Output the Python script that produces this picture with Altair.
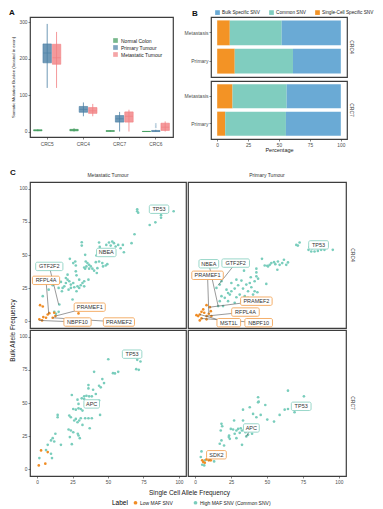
import altair as alt
import pandas as pd

FONT = "Liberation Sans"
DARK = "#333333"

# ---------------- Panel A: mutation burden boxplots ----------------
A_SAMPLES = ["CRC5", "CRC4", "CRC7", "CRC6"]
A_GROUPS = ["Normal Colon", "Primary Tumour", "Metastatic Tumour"]
A_COLORS = ["#3e9a5b", "#4b80a5", "#f17f82"]
A_BOX_SAMPLE = ["CRC5"] * 3 + ["CRC4"] * 3 + ["CRC7"] * 3 + ["CRC6"] * 3
A_BOX_GROUP = A_GROUPS * 4
A_LOW = [1, 120, 120, 0, 42, 42, 0, 0, 0, 0, 0, 0]
A_Q1 = [2, 189, 185, 2, 53, 50, 0.5, 26, 26, 0, 0, 3]
A_MED = [3, 216, 203, 4, 61, 57, 1.5, 35, 42, 0, 1, 12]
A_Q3 = [5, 241, 240, 6, 69, 66, 2.5, 44, 54, 0.5, 3, 23]
A_HIGH = [6, 296, 274, 9, 80, 76, 3, 54, 60, 1, 5, 28]
A_OUT_SAMPLE = ["CRC6", "CRC6", "CRC6"]
A_OUT_GROUP = ["Primary Tumour"] * 3
A_OUT_VAL = [12, 16, 21]

# ---------------- Panel B: SNV category percentages ----------------
B_TYPES = ["Bulk Specific SNV", "Common SNV", "Single-Cell Specific SNV"]
B_COLORS = ["#6aaad5", "#80cdbf", "#f39325"]
B_CONDS = ["Metastasis", "Primary"]
B_SAMPLE = ["CRC4"] * 6 + ["CRC7"] * 6
B_COND = (["Metastasis"] * 3 + ["Primary"] * 3) * 2
B_TYPE = ["Single-Cell Specific SNV", "Common SNV", "Bulk Specific SNV"] * 4
B_VALUE = [10.2, 42.0, 47.8, 14.2, 47.1, 38.7, 12.4, 43.8, 43.8, 6.5, 49.1, 44.4]

# ---------------- Panel C: allele frequencies ----------------
HIGH = "High MAF SNV (Common SNV)"
LOW = "Low MAF SNV"
LABEL_DOMAIN = [LOW, HIGH]
PT_COLORS = ["#f08c24", "#79cdbc"]
BOX_COLORS = ["#f3a65a", "#8ed2c4"]

CRC4_MET_HIGH_X = [70.6, 70.6, 71.3, 96.3, 87.4, 87.4, 83.4, 79.4, 68.7, 66.6, 60.5, 61.2, 57.2, 54.2, 55.4, 50.7, 53.0,
                   48.8, 51.9, 58.9, 43.7, 44.2, 31.5, 31.5, 33.9, 41.8, 34.3, 35.5, 36.7, 34.8, 33.9, 36.7, 39.0, 37.9,
                   40.2, 42.5, 42.1, 46.0, 46.5, 48.4, 49.5, 43.7, 41.4, 33.2, 23.1, 26.9, 25.5, 27.3, 20.3, 21.5, 22.7,
                   23.8, 20.3, 19.2, 18.0, 17.5, 22.2, 23.8, 26.2, 28.5, 29.7, 27.8, 30.8, 32.0, 33.2, 27.8, 27.3, 33.2,
                   29.7, 25.5, 36.2, 21.5, 4.0, 8.2, 11.0, 15.2, 16.8, 25.0, 15.7, 13.3, 15.2, 12.1]
CRC4_MET_HIGH_Y = [84.5, 83.0, 81.8, 83.0, 80.0, 78.1, 74.6, 72.6, 65.6, 58.9, 57.6, 52.1, 57.6, 58.9, 56.4, 59.4, 60.1,
                   57.6, 57.1, 55.1, 59.4, 56.1, 59.6, 57.1, 50.1, 49.6, 45.1, 43.9, 42.6, 41.4, 39.7, 39.7, 39.7, 41.4,
                   38.2, 40.1, 36.4, 43.9, 41.4, 42.1, 43.1, 45.1, 44.6, 40.6, 47.1, 45.1, 43.9, 42.1, 32.7, 31.4, 30.2,
                   27.7, 28.9, 26.4, 25.2, 22.7, 23.9, 25.2, 25.7, 26.4, 25.2, 22.7, 27.2, 28.9, 26.4, 34.7, 37.7, 30.2,
                   31.4, 28.9, 31.4, 35.2, 19.0, 23.9, 27.2, 25.2, 29.7, 16.5, 12.7, 5.7, 7.2, 7.2]
CRC4_MET_LOW_X = [2.1, 4.0, 4.4, 1.6, 3.5, 7.5, 8.6, 11.0, 12.9, 29.2, 12.1, 6.3]
CRC4_MET_LOW_Y = [12.2, 11.2, 3.2, 1.5, 0.7, 5.2, 6.2, 2.7, 4.0, 6.0, 6.5, 2.7]

CRC4_PRI_HIGH_X = [70.4, 72.7, 71.5, 78.9, 80.8, 83.1, 85.4, 87.7, 90.0, 95.8, 79.6, 81.3, 46.5, 48.4, 50.2, 51.9, 53.0,
                   54.9, 55.8, 57.6, 58.8, 60.6, 61.8, 63.4, 64.6, 57.2, 50.7, 34.0, 42.6, 42.6, 38.7, 41.4, 43.8, 49.5,
                   43.3, 36.8, 39.1, 35.6, 32.2, 33.3, 29.9, 27.5, 25.2, 31.0, 34.5, 28.7, 24.1, 20.6, 22.9, 18.3, 17.1,
                   16.0, 19.4, 27.5, 32.2, 36.8, 41.4, 40.3, 18.3, 17.1, 14.8, 21.8, 25.2, 28.7, 42.6, 38.0, 22.9]
CRC4_PRI_HIGH_Y = [57.6, 59.4, 57.1, 53.9, 52.6, 52.6, 53.1, 53.9, 53.9, 53.9, 55.9, 55.1, 47.1, 42.1, 41.9, 42.6, 43.9,
                   44.6, 43.1, 45.1, 42.6, 43.9, 46.4, 42.6, 44.4, 38.9, 41.4, 38.2, 36.9, 33.9, 33.2, 30.2, 32.2, 28.2,
                   21.9, 22.7, 25.7, 27.7, 30.7, 24.7, 27.2, 24.7, 22.7, 20.2, 19.0, 18.2, 20.2, 17.7, 15.2, 19.0, 15.2,
                   11.5, 11.5, 14.0, 15.2, 17.7, 22.7, 20.2, 30.2, 27.7, 25.2, 23.9, 28.9, 31.4, 39.7, 28.9, 21.4]
CRC4_PRI_LOW_X = [7.9, 5.6, 4.4, 3.2, 2.1, 4.4, 3.2, 7.9, 9.5, 10.9, 11.3, 7.9, 10.2, 6.3, 0.9]
CRC4_PRI_LOW_Y = [12.2, 9.0, 7.2, 5.2, 4.0, 2.2, 0.7, 4.0, 5.7, 7.7, 4.0, 1.5, 10.7, 6.5, 4.7]

CRC7_MET_HIGH_X = [50.2, 70.6, 72.9, 69.9, 71.7, 57.2, 53.5, 54.9, 40.2, 46.0, 47.2, 43.7, 44.9, 36.2, 36.2, 39.5, 33.2,
                   34.8, 36.7, 38.6, 41.4, 31.5, 33.2, 43.7, 40.2, 24.5, 28.5, 29.2, 30.8, 29.2, 27.3, 32.0, 25.5, 23.8,
                   22.7, 27.3, 29.7, 28.5, 30.8, 26.2, 33.9, 36.2, 38.6, 44.4, 37.1, 32.0, 22.2, 23.8, 25.5, 23.1, 28.7,
                   29.2, 30.1, 14.5, 14.5, 12.9, 11.0, 9.8, 12.1, 7.5, 16.8, 24.5, 6.3, 9.8, 10.5, 1.6]
CRC7_MET_HIGH_Y = [83.0, 82.5, 81.3, 75.5, 75.0, 73.5, 72.5, 72.3, 73.5, 68.0, 65.0, 63.0, 61.8, 63.5, 61.0, 60.0, 55.0,
                   55.5, 55.0, 55.0, 56.8, 53.5, 53.0, 51.8, 51.0, 56.0, 52.5, 49.3, 45.5, 46.0, 45.0, 44.3, 45.5, 39.3,
                   40.5, 38.0, 36.8, 35.5, 38.5, 36.8, 38.5, 38.5, 38.5, 41.0, 31.0, 33.5, 30.0, 29.3, 28.0, 24.3, 26.8,
                   25.5, 23.5, 41.0, 39.3, 26.8, 23.5, 21.8, 21.0, 18.5, 18.5, 19.0, 14.5, 11.8, 8.5, 8.5]
CRC7_MET_LOW_X = [2.8, 7.5, 5.8, 1.2]
CRC7_MET_LOW_Y = [14.3, 13.0, 4.3, 3.0]

CRC7_PRI_HIGH_X = [64.6, 75.7, 43.8, 44.2, 43.8, 38.0, 33.3, 48.8, 45.6, 42.6, 40.3, 50.2, 54.9, 58.8, 62.3, 64.6, 69.2,
                   27.1, 33.3, 18.3, 18.8, 17.8, 24.8, 26.4, 28.7, 29.9, 31.7, 32.6, 27.5, 31.0, 23.6, 23.4, 24.1, 28.7,
                   35.0, 36.8, 39.6, 32.6, 18.3, 17.1, 20.1, 4.4, 3.9, 6.7, 6.3, 4.9, 13.2, 35.6]
CRC7_PRI_HIGH_Y = [59.3, 55.0, 54.3, 51.0, 50.5, 46.8, 45.0, 48.5, 41.0, 39.3, 41.8, 37.5, 36.0, 41.0, 45.0, 45.5, 43.0,
                   36.8, 36.8, 34.3, 32.5, 29.3, 30.5, 30.0, 29.3, 30.5, 31.0, 29.3, 26.8, 27.5, 25.5, 24.3, 23.0, 23.5,
                   28.0, 26.0, 26.8, 18.5, 21.8, 19.3, 18.0, 13.5, 9.3, 6.8, 3.0, 3.5, 6.0, 24.8]
CRC7_PRI_LOW_X = [7.9, 9.5, 10.2, 10.9, 5.6, 6.7, 4.9]
CRC7_PRI_LOW_Y = [7.5, 6.8, 8.5, 6.8, 5.5, 5.0, 6.8]

LAB_SAMPLE = ["CRC4"] * 15 + ["CRC7"] * 5
LAB_TUMOUR = (["Metastatic Tumour"] * 7 + ["Primary Tumour"] * 8 +
              ["Metastatic Tumour"] * 2 + ["Primary Tumour"] * 3)
LAB_GENE = ["TP53", "NBEA", "GTF2F2", "RFPL4A", "PRAMEF1", "NBPF10", "PRAMEF2",
            "TP53", "NBEA", "GTF2F2", "PRAMEF1", "PRAMEF2", "RFPL4A", "MST1L", "NBPF10",
            "TP53", "APC",
            "APC", "TP53", "SDK2"]
LAB_TYPE = [HIGH, HIGH, HIGH, LOW, LOW, LOW, LOW,
            HIGH, HIGH, HIGH, LOW, LOW, LOW, LOW, LOW,
            HIGH, HIGH,
            HIGH, HIGH, LOW]
LAB_X = [86.0, 48.8, 8.6, 6.3, 37.1, 28.5, 57.7, 85.9, 9.5, 28.2, 8.6, 42.6, 35.0, 23.4, 44.2, 67.0, 38.5, 39.1, 73.8, 14.8]
LAB_Y = [84.5, 51.9, 41.4, 30.9, 10.7, -0.5, -0.5, 57.6, 43.4, 43.9, 34.7, 15.2, 7.0, -1.0, -1.0, 86.8, 49.3, 31.2, 47.5, 11.0]
LAB_TX = [86.0, 48.8, 15.2, 8.2, 12.9, 1.6, 11.0, 85.9, 16.0, 16.0, 9.5, 10.2, 7.9, 3.2, 4.4, 67.0, 38.5, 35.6, 73.8, 9.5]
LAB_TY = [84.5, 51.9, 12.7, 5.7, 4.0, 0.7, 2.7, 57.6, 11.5, 27.2, 5.7, 10.7, 4.0, 5.2, 2.2, 86.8, 49.3, 24.8, 47.5, 6.8]

# ======================= Panel A chart =======================
a_df = pd.DataFrame({"sample": A_BOX_SAMPLE, "group": A_BOX_GROUP, "low": A_LOW, "q1": A_Q1,
                     "med": A_MED, "q3": A_Q3, "high": A_HIGH})
a_out = pd.DataFrame({"sample": A_OUT_SAMPLE, "group": A_OUT_GROUP, "v": A_OUT_VAL})

a_x = alt.X("sample:N", sort=A_SAMPLES,
            scale=alt.Scale(domain=A_SAMPLES, paddingInner=0.25, paddingOuter=0.1),
            axis=alt.Axis(title=None, labelAngle=0, labelFontSize=4.8, labelPadding=2))
a_xo = alt.XOffset("group:N", sort=A_GROUPS, scale=alt.Scale(domain=A_GROUPS, paddingInner=0.1))
a_ys = alt.Scale(domain=[-15, 315], nice=False, zero=False)
a_yaxis = alt.Axis(values=[0, 100, 200, 300], title="Somatic Mutation Burden (located in exon)",
                   titleFontSize=4.3, titlePadding=3)
a_cs = alt.Scale(domain=A_GROUPS, range=A_COLORS)
a_leg = alt.Legend(orient="none", legendX=83, legendY=21, title=None, symbolType="square",
                   symbolSize=22, labelFontSize=5, labelOffset=3, rowPadding=1, symbolStrokeWidth=0)
a_color = alt.Color("group:N", scale=a_cs, sort=A_GROUPS, legend=a_leg)

a_whisk = alt.Chart(a_df).mark_rule(strokeWidth=0.8).encode(
    x=a_x, xOffset=a_xo, y=alt.Y("low:Q", scale=a_ys, axis=a_yaxis), y2="high:Q", color=a_color)
a_box = alt.Chart(a_df).mark_bar(fillOpacity=0.8, strokeWidth=0.6).encode(
    x=a_x, xOffset=a_xo, y=alt.Y("q1:Q", scale=a_ys, axis=a_yaxis), y2="q3:Q", color=a_color,
    stroke=alt.Stroke("group:N", scale=a_cs, legend=None))
a_med = alt.Chart(a_df).mark_tick(thickness=0.9, size=8).encode(
    x=a_x, xOffset=a_xo, y=alt.Y("med:Q", scale=a_ys, axis=a_yaxis), color=a_color)
a_pts = alt.Chart(a_out).mark_circle(size=4, opacity=0.35).encode(
    x=a_x, xOffset=a_xo, y=alt.Y("v:Q", scale=a_ys, axis=a_yaxis), color=a_color)

panel_a = alt.layer(a_whisk, a_box, a_med, a_pts).properties(
    width=143, height=120,
    title=alt.TitleParams("A", anchor="start", frame="group", dx=-21, offset=4, dy=4))

# ======================= Panel B chart =======================
b_df = pd.DataFrame({"sample": B_SAMPLE, "cond": B_COND, "type": B_TYPE, "value": B_VALUE})
b_df["ord"] = b_df["type"].map({"Single-Cell Specific SNV": 0, "Common SNV": 1, "Bulk Specific SNV": 2})
b_cs = alt.Scale(domain=B_TYPES, range=B_COLORS)


def bar_chart(sample, show_x, show_legend, h):
    d = b_df[b_df["sample"] == sample]
    xaxis = alt.Axis(values=[0, 25, 50, 75, 100], title="Percentage", titleFontSize=5.5,
                     titlePadding=1, labelFontSize=4.8) if show_x else None
    leg = alt.Legend(orient="none", legendX=4, legendY=-7, direction="horizontal", title=None,
                     symbolType="square", symbolSize=22, labelFontSize=4.7, labelOffset=2,
                     columnPadding=9, symbolStrokeWidth=0) if show_legend else None
    return alt.Chart(d).mark_bar().encode(
        x=alt.X("value:Q", stack="zero", scale=alt.Scale(domain=[-5, 105], nice=False, zero=False), axis=xaxis),
        y=alt.Y("cond:N", sort=B_CONDS, scale=alt.Scale(domain=B_CONDS, paddingInner=0.12, paddingOuter=0.12),
                axis=alt.Axis(title=None, labelFontSize=5)),
        color=alt.Color("type:N", scale=b_cs, legend=leg),
        order=alt.Order("ord:Q"),
    ).properties(width=136, height=h)


def strip(text, w, h, angle=0, fs=5.0):
    return alt.Chart(pd.DataFrame({"t": [text]})).mark_text(
        angle=angle, fontSize=fs, color=DARK, font=FONT).encode(text="t:N").properties(width=w, height=h)


b_row4 = alt.hconcat(bar_chart("CRC4", False, True, 60), strip("CRC4", 9, 60, 90), spacing=0, bounds="flush")
b_row7 = alt.hconcat(bar_chart("CRC7", True, False, 58), strip("CRC7", 9, 58, 90), spacing=0, bounds="flush")
panel_b = alt.vconcat(b_row4, b_row7, spacing=2).resolve_scale(color="independent").properties(
    title=alt.TitleParams("B", anchor="start", frame="group", dx=-19, offset=1, dy=9))

# ======================= Panel C chart =======================
lab_df = pd.DataFrame({"sample": LAB_SAMPLE, "tumour": LAB_TUMOUR, "gene": LAB_GENE, "type": LAB_TYPE,
                       "lx": LAB_X, "ly": LAB_Y, "tx": LAB_TX, "ty": LAB_TY})
PX_X = 157 / 110.0
PX_Y = 146 / 110.0
lab_df["hw"] = (lab_df["gene"].str.len() * 3.9 + 4) / 2 / PX_X
lab_df["bx0"] = lab_df["lx"] - lab_df["hw"]
lab_df["bx1"] = lab_df["lx"] + lab_df["hw"]
lab_df["by0"] = lab_df["ly"] - 4.2 / PX_Y
lab_df["by1"] = lab_df["ly"] + 4.2 / PX_Y

XS = alt.Scale(domain=[-5, 105], nice=False, zero=False)
YS = alt.Scale(domain=[-5, 105], nice=False, zero=False)
TICKS = [0, 25, 50, 75, 100]


def scatter_cell(sample, tumour, hx, hy, lx, ly, col, row, w):
    pts = pd.DataFrame({"x": list(hx) + list(lx), "y": list(hy) + list(ly),
                        "Label": [HIGH] * len(hx) + [LOW] * len(lx)})
    lab = lab_df[(lab_df["sample"] == sample) & (lab_df["tumour"] == tumour)].copy()
    if row == 1 and col == 0:
        xaxis = alt.Axis(values=TICKS, title="Single Cell Allele Frequency", titleFontSize=6.5,
                         titleX=159, titleY=13, titleFontWeight="normal", labelFontSize=4.8)
    elif row == 1:
        xaxis = alt.Axis(values=TICKS, title=None, labelFontSize=4.8)
    else:
        xaxis = None
    if col == 0 and row == 0:
        yaxis = alt.Axis(values=TICKS, title="Bulk Allele Frequency", titleFontSize=6.5,
                         titleX=-15, titleY=148, labelFontSize=4.8)
    elif col == 0:
        yaxis = alt.Axis(values=TICKS, title=None, labelFontSize=4.8)
    else:
        yaxis = None
    if row == 1 and col == 0:
        leg = alt.Legend(orient="none", legendX=82, legendY=170, direction="horizontal", title="Label",
                         titleOrient="left", titleFontSize=6.5, titleFontWeight="normal", titlePadding=5,
                         labelFontSize=5, symbolSize=14, columnPadding=20, labelOffset=2,
                         symbolStrokeWidth=0)
    else:
        leg = None
    color = alt.Color("Label:N", scale=alt.Scale(domain=LABEL_DOMAIN, range=PT_COLORS), legend=leg)
    p = alt.Chart(pts).mark_circle(size=7, opacity=1).encode(
        x=alt.X("x:Q", scale=XS, axis=xaxis), y=alt.Y("y:Q", scale=YS, axis=yaxis), color=color)
    layers = [p]
    segs = lab[(lab["lx"] != lab["tx"]) | (lab["ly"] != lab["ty"])]
    if len(segs):
        layers.append(alt.Chart(segs).mark_rule(color="#555555", strokeWidth=0.6).encode(
            x=alt.X("lx:Q", scale=XS, axis=xaxis), y=alt.Y("ly:Q", scale=YS, axis=yaxis),
            x2="tx:Q", y2="ty:Q"))
    layers.append(alt.Chart(lab).mark_rect(fill="white", strokeWidth=0.9, cornerRadius=1.5).encode(
        x=alt.X("bx0:Q", scale=XS, axis=xaxis), y=alt.Y("by0:Q", scale=YS, axis=yaxis),
        x2="bx1:Q", y2="by1:Q",
        stroke=alt.Stroke("type:N", scale=alt.Scale(domain=LABEL_DOMAIN, range=BOX_COLORS), legend=None)))
    layers.append(alt.Chart(lab).mark_text(fontSize=5.5, color=DARK, font=FONT).encode(
        x=alt.X("lx:Q", scale=XS, axis=xaxis), y=alt.Y("ly:Q", scale=YS, axis=yaxis), text="gene:N"))
    return alt.layer(*layers).properties(width=w, height=146)


empty = alt.Chart(pd.DataFrame({"t": [""]})).mark_text().encode(text="t:N").properties(
    width=10, height=11, view=alt.ViewBackground(strokeOpacity=0))

cells = [
    strip("Metastatic Tumour", 156, 11), strip("Primary Tumour", 158, 11), empty,
    scatter_cell("CRC4", "Metastatic Tumour", CRC4_MET_HIGH_X, CRC4_MET_HIGH_Y, CRC4_MET_LOW_X, CRC4_MET_LOW_Y, 0, 0, 156),
    scatter_cell("CRC4", "Primary Tumour", CRC4_PRI_HIGH_X, CRC4_PRI_HIGH_Y, CRC4_PRI_LOW_X, CRC4_PRI_LOW_Y, 1, 0, 158),
    strip("CRC4", 10, 146, 90),
    scatter_cell("CRC7", "Metastatic Tumour", CRC7_MET_HIGH_X, CRC7_MET_HIGH_Y, CRC7_MET_LOW_X, CRC7_MET_LOW_Y, 0, 1, 156),
    scatter_cell("CRC7", "Primary Tumour", CRC7_PRI_HIGH_X, CRC7_PRI_HIGH_Y, CRC7_PRI_LOW_X, CRC7_PRI_LOW_Y, 1, 1, 158),
    strip("CRC7", 10, 146, 90),
]
panel_c = alt.concat(*cells, columns=3, spacing=2, bounds="flush").resolve_scale(
    color="independent", stroke="independent").properties(
    title=alt.TitleParams("C", anchor="start", frame="group", dx=-20, offset=0, dy=8))

top_row = alt.hconcat(panel_a, panel_b, spacing=9).resolve_scale(color="independent", stroke="independent")

chart = alt.vconcat(top_row, panel_c, spacing=14).resolve_scale(
    color="independent", stroke="independent").properties(padding=0).configure(
    font=FONT).configure_view(stroke="#3d3d3d", strokeWidth=1.2).configure_axis(
    grid=False, domain=False, labelFontSize=4.8, labelColor="#4d4d4d", tickColor="#333333",
    tickSize=2, tickWidth=0.6, labelPadding=1, titleFontWeight="normal", titleColor="#222222",
    labelFont=FONT, titleFont=FONT).configure_legend(labelFont=FONT, titleFont=FONT,
    labelColor="#222222").configure_title(font=FONT, fontSize=8, fontWeight="bold", color="#111111")

chart.save("out.html", embed_options={"renderer": "svg", "actions": False})
